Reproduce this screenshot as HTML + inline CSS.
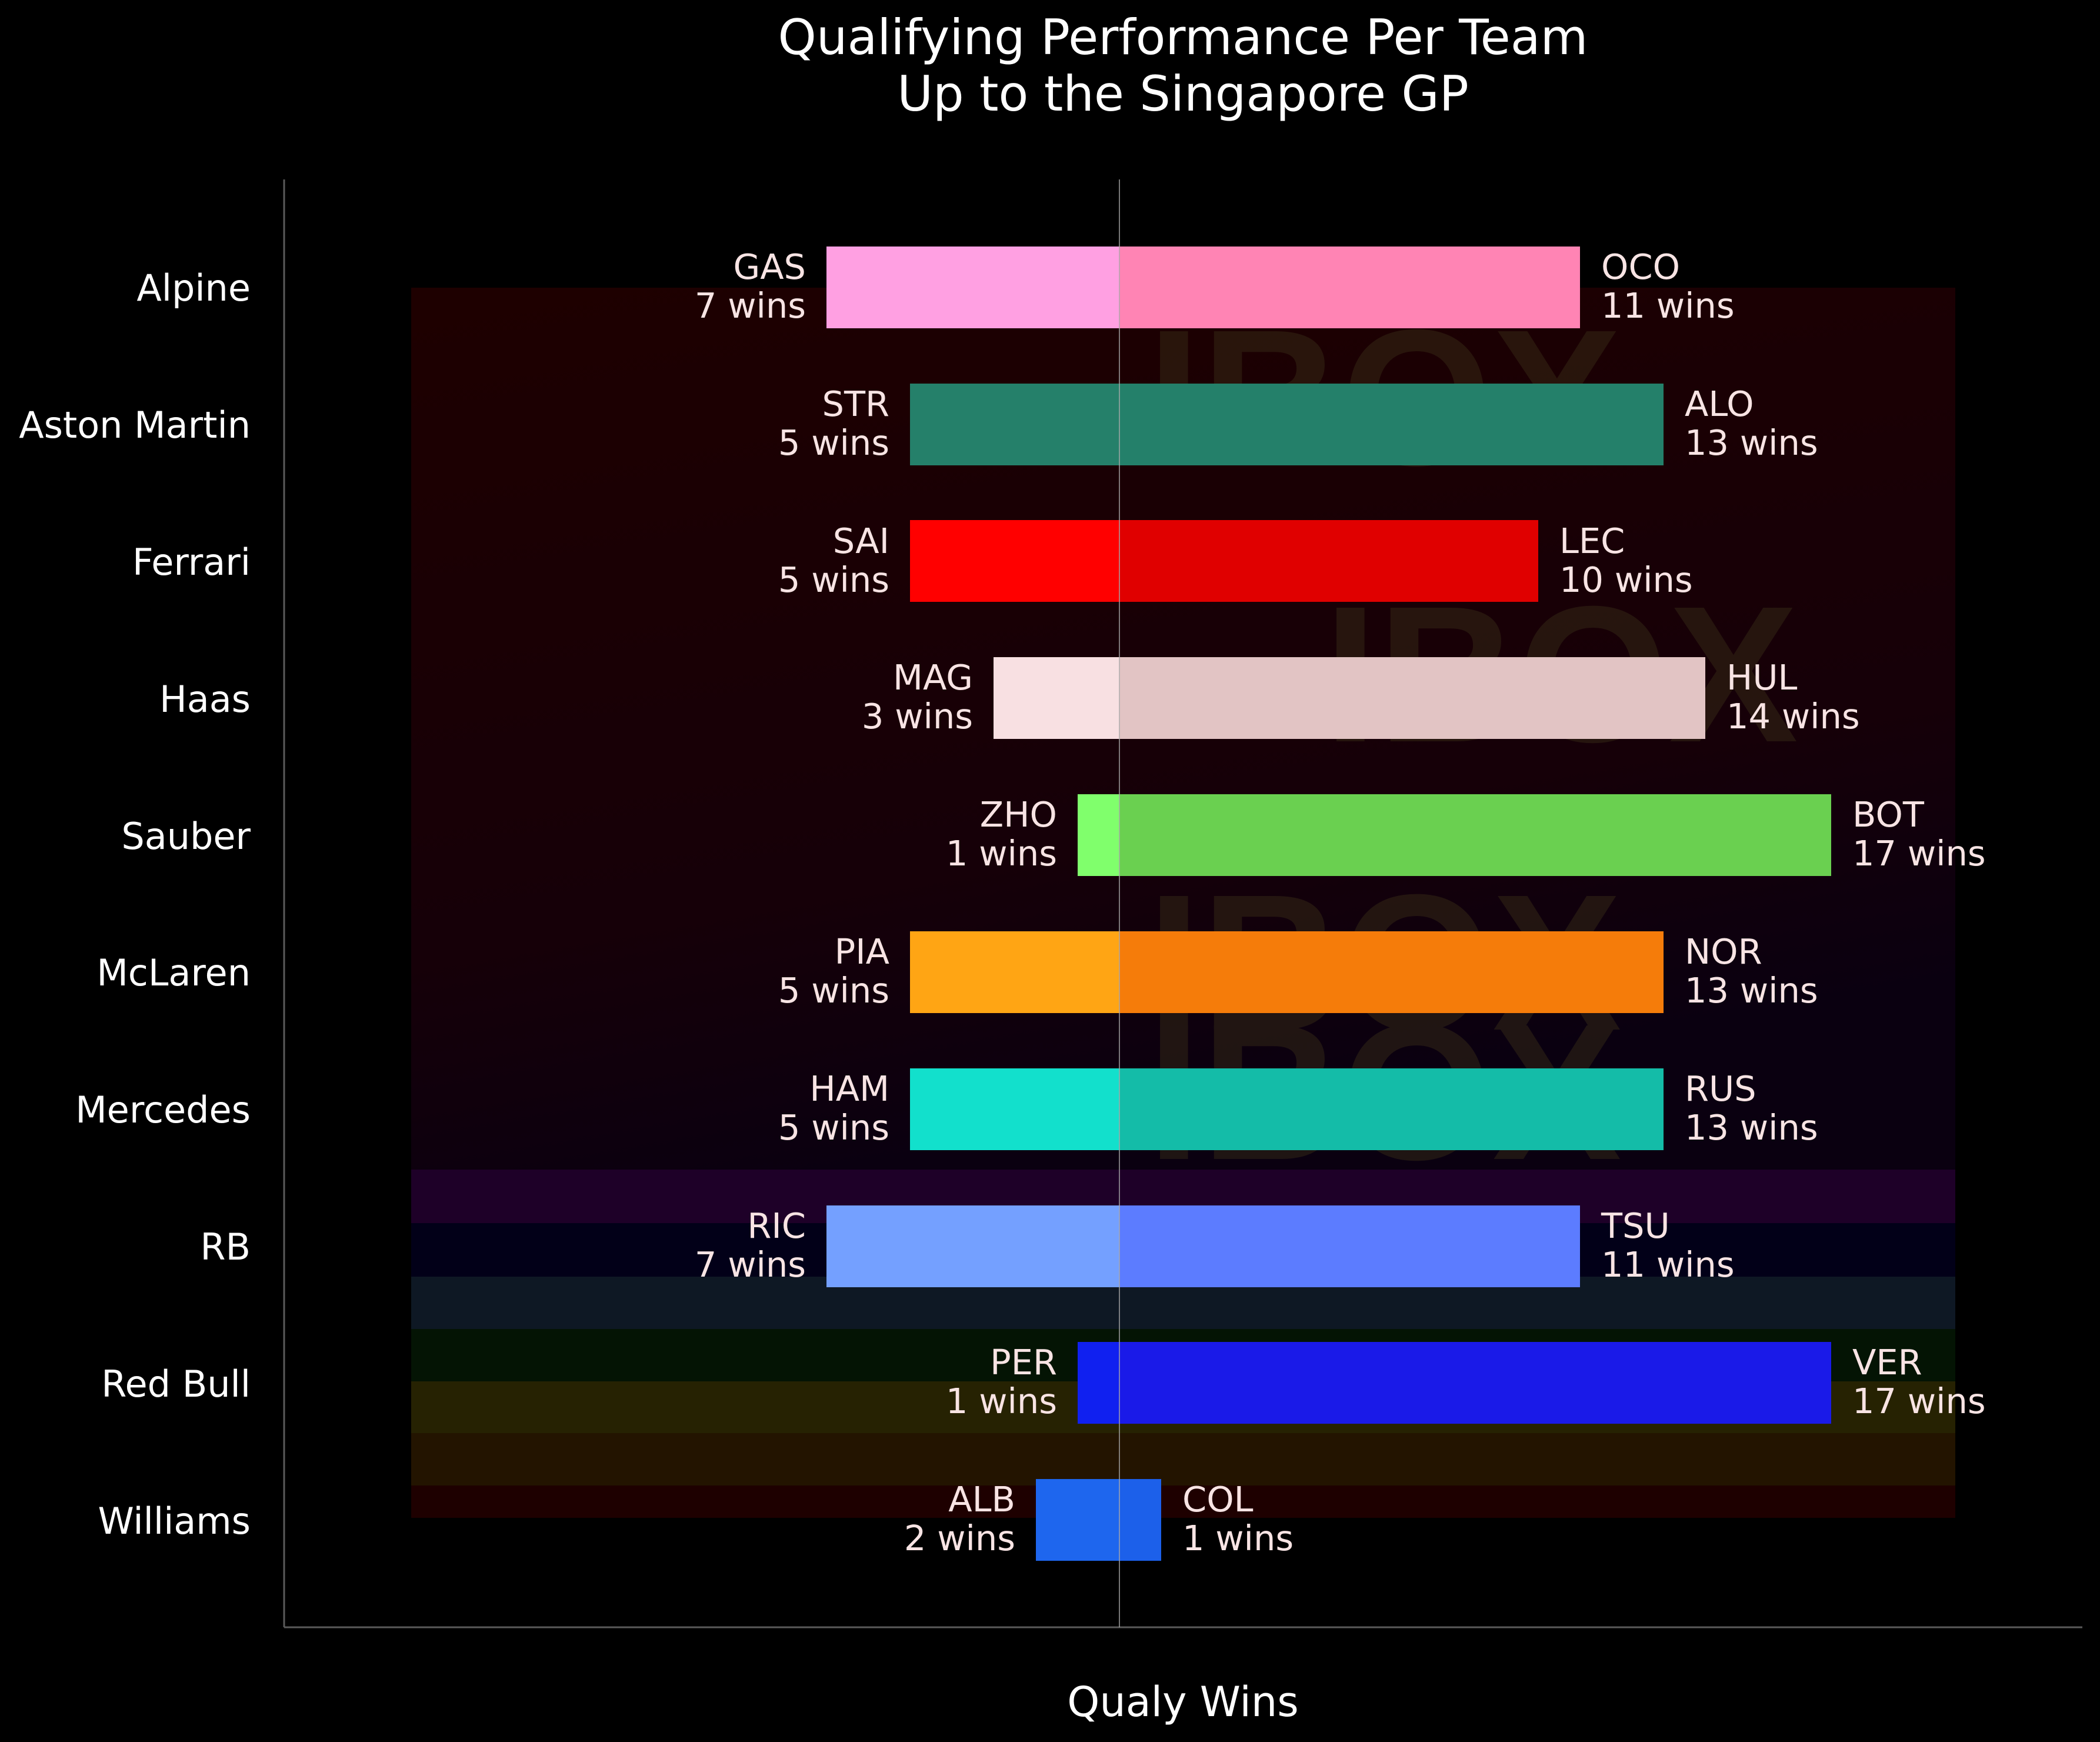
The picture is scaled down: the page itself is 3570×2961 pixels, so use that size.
<!DOCTYPE html>
<html><head><style>
html,body{margin:0;padding:0;background:#000;}
svg{display:block;font-family:"DejaVu Sans","Liberation Sans",sans-serif;}
</style></head><body>
<svg width="3570" height="2961" viewBox="0 0 3570 2961" xmlns="http://www.w3.org/2000/svg">
<rect width="3570" height="2961" fill="#000"/>
<defs>
<linearGradient id="bgg" x1="0" y1="0" x2="0.3" y2="1">
<stop offset="0" stop-color="#1e0000"/>
<stop offset="0.7" stop-color="#160008"/>
<stop offset="1" stop-color="#0a0010"/>
</linearGradient>
</defs>
<rect x="699" y="489" width="2625" height="1499" fill="url(#bgg)"/>
<rect x="699" y="1988" width="2625" height="91" fill="#1e0028"/>
<rect x="699" y="2079" width="2625" height="91" fill="#020018"/>
<rect x="699" y="2170" width="2625" height="89" fill="#0e1824"/>
<rect x="699" y="2259" width="2625" height="89" fill="#041404"/>
<rect x="699" y="2348" width="2625" height="88" fill="#262202"/>
<rect x="699" y="2436" width="2625" height="89" fill="#231400"/>
<rect x="699" y="2525" width="2625" height="55" fill="#1e0000"/>
<g font-family="Liberation Sans, sans-serif" font-weight="bold" font-size="330" fill="#3a3018" opacity="0.45">
<text x="1950" y="790">IBOX</text>
<text x="2250" y="1260">IBOX</text>
<text x="1950" y="1750">IBOX</text>
<text x="1950" y="1970">IBOX</text>
</g>
<line x1="483" y1="305" x2="483" y2="2766" stroke="#5a5a5a" stroke-width="3"/>
<line x1="483" y1="2766" x2="3540" y2="2766" stroke="#5a5a5a" stroke-width="3"/>
<g>
<rect x="1405" y="419" width="498" height="139" fill="#ffa0e2"/><rect x="1903" y="419" width="783" height="139" fill="#ff84b4"/>
<rect x="1547" y="652" width="356" height="139" fill="#25806a"/><rect x="1903" y="652" width="925" height="139" fill="#24806a"/>
<rect x="1547" y="884" width="356" height="139" fill="#ff0000"/><rect x="1903" y="884" width="712" height="139" fill="#e00000"/>
<rect x="1689" y="1117" width="214" height="139" fill="#f8e0e2"/><rect x="1903" y="1117" width="996" height="139" fill="#e2c4c4"/>
<rect x="1832" y="1350" width="71" height="139" fill="#80ff6c"/><rect x="1903" y="1350" width="1210" height="139" fill="#6ad050"/>
<rect x="1547" y="1583" width="356" height="139" fill="#ffa514"/><rect x="1903" y="1583" width="925" height="139" fill="#f57c0a"/>
<rect x="1547" y="1816" width="356" height="139" fill="#12e0cc"/><rect x="1903" y="1816" width="925" height="139" fill="#14bca8"/>
<rect x="1405" y="2049" width="498" height="139" fill="#74a0ff"/><rect x="1903" y="2049" width="783" height="139" fill="#5c7cff"/>
<rect x="1832" y="2281" width="71" height="139" fill="#1020f0"/><rect x="1903" y="2281" width="1210" height="139" fill="#1a1ae8"/>
<rect x="1761" y="2514" width="142" height="139" fill="#1e66ee"/><rect x="1903" y="2514" width="71" height="139" fill="#1c60ea"/>
</g>
<line x1="1903" y1="305" x2="1903" y2="2766" stroke="#aaa" stroke-width="2" opacity="0.7"/>
<g font-size="62" fill="#fff" text-anchor="end">
<text x="426" y="511">Alpine</text>
<text x="426" y="744">Aston Martin</text>
<text x="426" y="977">Ferrari</text>
<text x="426" y="1210">Haas</text>
<text x="426" y="1443">Sauber</text>
<text x="426" y="1675">McLaren</text>
<text x="426" y="1908">Mercedes</text>
<text x="426" y="2141">RB</text>
<text x="426" y="2374">Red Bull</text>
<text x="426" y="2607">Williams</text>
</g>
<g font-size="59" fill="#f8e4e4">
<g text-anchor="end">
<text x="1370" y="474">GAS</text><text x="1370" y="540">7 wins</text>
<text x="1512" y="707">STR</text><text x="1512" y="773">5 wins</text>
<text x="1512" y="940">SAI</text><text x="1512" y="1006">5 wins</text>
<text x="1654" y="1172">MAG</text><text x="1654" y="1238">3 wins</text>
<text x="1797" y="1405">ZHO</text><text x="1797" y="1471">1 wins</text>
<text x="1512" y="1638">PIA</text><text x="1512" y="1704">5 wins</text>
<text x="1512" y="1871">HAM</text><text x="1512" y="1937">5 wins</text>
<text x="1370" y="2104">RIC</text><text x="1370" y="2170">7 wins</text>
<text x="1797" y="2336">PER</text><text x="1797" y="2402">1 wins</text>
<text x="1726" y="2569">ALB</text><text x="1726" y="2635">2 wins</text>
</g>
<g text-anchor="start">
<text x="2722" y="474">OCO</text><text x="2722" y="540">11 wins</text>
<text x="2864" y="707">ALO</text><text x="2864" y="773">13 wins</text>
<text x="2651" y="940">LEC</text><text x="2651" y="1006">10 wins</text>
<text x="2935" y="1172">HUL</text><text x="2935" y="1238">14 wins</text>
<text x="3149" y="1405">BOT</text><text x="3149" y="1471">17 wins</text>
<text x="2864" y="1638">NOR</text><text x="2864" y="1704">13 wins</text>
<text x="2864" y="1871">RUS</text><text x="2864" y="1937">13 wins</text>
<text x="2722" y="2104">TSU</text><text x="2722" y="2170">11 wins</text>
<text x="3149" y="2336">VER</text><text x="3149" y="2402">17 wins</text>
<text x="2010" y="2569">COL</text><text x="2010" y="2635">1 wins</text>
</g>
</g>
<g font-size="83" fill="#fff" text-anchor="middle">
<text x="2011" y="92">Qualifying Performance Per Team</text>
<text x="2011" y="188">Up to the Singapore GP</text>
</g>
<text x="2011" y="2917" font-size="70" fill="#fff" text-anchor="middle">Qualy Wins</text>
</svg>
</body></html>
